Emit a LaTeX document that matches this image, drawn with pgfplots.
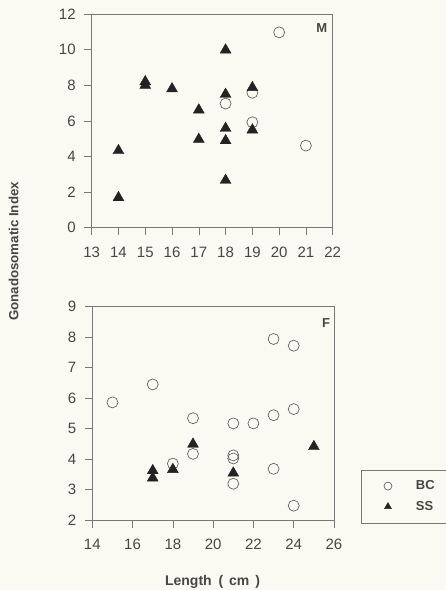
\documentclass[border=0pt]{standalone}
\usepackage{pgfplots}
\pgfplotsset{compat=1.18}
\usepackage{fontspec}
\setmainfont{Liberation Sans}
\definecolor{bg}{RGB}{251,250,242}
\definecolor{txt}{RGB}{70,70,70}
\definecolor{axg}{RGB}{120,120,120}
\definecolor{circ}{RGB}{100,100,100}
\definecolor{tri}{RGB}{35,35,35}
\pgfplotsset{
  common/.style={
    scale only axis,
    axis line style={draw=axg, line width=0.6pt},
    tick style={draw=axg, line width=0.6pt},
    tick align=outside,
    major tick length=7.5pt,
    xtick pos=bottom, ytick pos=left,
    /pgf/number format/assume math mode=true,
    ticklabel style={font=\fontsize{15}{15}\selectfont, text=txt},
    xticklabel style={yshift=-8pt},
    yticklabel style={xshift=-5pt},
  },
  bcstyle/.style={only marks, mark=o, mark size=5.5pt, draw=circ, mark options={line width=0.7pt}},
  ssstyle/.style={only marks, mark=triangle*, mark size=6.3pt, draw=tri, fill=tri, mark options={fill=tri, draw=tri}},
}
\begin{document}
\begin{tikzpicture}[x=1pt,y=1pt]
\fill[bg] (0pt,0pt) rectangle (446pt,590pt);
\useasboundingbox (0pt,0pt) rectangle (446pt,590pt);
% top panel (M)
\begin{axis}[common, at={(91.7pt,362.3pt)}, anchor=south west,
  width=241pt, height=213.7pt,
  xmin=13, xmax=22, ymin=0, ymax=12,
  xtick={13,...,22}, ytick={0,2,...,12}]
\addplot[bcstyle] coordinates {(18,6.97) (19,7.58) (19,5.92) (20,10.97) (21,4.61)};
\addplot[ssstyle] coordinates {(14,4.33) (14,1.69) (15,8.2) (15,8.0) (16,7.8) (17,6.61) (17,4.96)
  (18,9.98) (18,7.49) (18,5.58) (18,4.89) (18,2.66) (19,7.87) (19,5.49)};
\end{axis}
% bottom panel (F)
\begin{axis}[common, at={(92.3pt,70pt)}, anchor=south west,
  width=241.7pt, height=213.3pt,
  xmin=14, xmax=26, ymin=2, ymax=9,
  xtick={14,16,...,26}, ytick={2,...,9},
  legend style={at={(axis description cs:1.1105,0.2366)}, anchor=north west,
    draw=axg, fill=bg, line width=0.5pt, inner xsep=23pt, inner ysep=9pt,
    row sep=6pt,
    /tikz/every odd column/.append style={column sep=22pt},
    font=\fontsize{13}{13}\selectfont\bfseries, text=txt},
  legend cell align=left,
  legend image post style={mark size=4pt}]
\addplot[bcstyle] coordinates {(15,5.86) (17,6.45) (18,3.85) (19,5.34) (19,4.17) (21,5.17)
  (21,4.12) (21,4.02) (21,3.19) (22,5.17) (23,7.94) (23,5.44) (23,3.68) (24,7.72) (24,5.64) (24,2.47)};
\addlegendentry{BC\hspace{20pt}}
\addplot[ssstyle] coordinates {(17,3.62) (17,3.38) (18,3.66) (19,4.49) (21,3.54) (25,4.41)};
\addlegendentry{SS}
\end{axis}
\node[font=\fontsize{13}{13}\selectfont\bfseries, text=txt] at (321.7pt,562.3pt) {M};
\node[font=\fontsize{13}{13}\selectfont\bfseries, text=txt] at (326pt,267.3pt) {F};
\node[font=\fontsize{13.3}{13}\selectfont\bfseries, text=txt, rotate=90] at (13.5pt,338.5pt) {Gonadosomatic Index};
\node[font=\fontsize{14}{14}\selectfont\bfseries, text=txt] at (212.5pt,8.4pt) {Length\hspace{3pt} (\hspace{2pt} cm\hspace{2pt} )};
\end{tikzpicture}
\end{document}
